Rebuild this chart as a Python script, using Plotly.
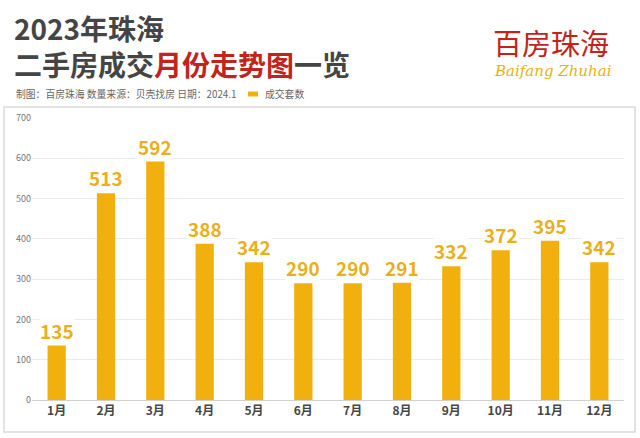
import plotly.graph_objects as go

months = ["1月", "2月", "3月", "4月", "5月", "6月", "7月", "8月", "9月", "10月", "11月", "12月"]
deals = [135, 513, 592, 388, 342, 290, 290, 291, 332, 372, 395, 342]
y_ticks = [0, 100, 200, 300, 400, 500, 600, 700]

FONT = "Noto Sans CJK SC"
BAR = "#F2B00F"
LABEL = "#EAB01C"
DARK = "#454545"
RED = "#C2241C"

W, H = 640, 438
L, R, T, B = 32, 16, 118, 38
pw, ph = W - L - R, H - T - B

def px(x):
    return (x - L) / pw

def py(y):
    return (H - B - y) / ph

fig = go.Figure()
fig.add_trace(go.Bar(x=months, y=deals, marker_color=BAR, marker_line_width=0,
                     width=0.37, name="成交套数", showlegend=False))

annotations = []
for m, v in zip(months, deals):
    annotations.append(dict(x=m, y=v, xref="x", yref="y", text="<b>%d</b>" % v,
                            showarrow=False, yanchor="bottom", yshift=1,
                            font=dict(family=FONT, size=19, color=LABEL),
                            bgcolor="rgba(255,255,255,0.9)", borderpad=0))

# Title (two lines in one text block)
annotations.append(dict(xref="paper", yref="paper", x=px(12), y=py(46), xanchor="left", yanchor="middle",
                        align="left",
                        text="<b>2023年珠海</b><br><b>二手房成交<span style='color:%s'>月份走势图</span>一览</b>" % RED,
                        showarrow=False, font=dict(family=FONT, size=28, color=DARK)))
annotations.append(dict(xref="paper", yref="paper", x=px(14), y=py(94), xanchor="left", yanchor="middle",
                        text="制图：百房珠海 数量来源：贝壳找房 日期：2024.1", showarrow=False,
                        font=dict(family=FONT, size=9.8, color="#666666")))
annotations.append(dict(xref="paper", yref="paper", x=px(263), y=py(94), xanchor="left", yanchor="middle",
                        text="成交套数", showarrow=False,
                        font=dict(family=FONT, size=9.8, color="#666666")))
# Logo
annotations.append(dict(xref="paper", yref="paper", x=px(551), y=py(42), xanchor="center", yanchor="middle",
                        text="百房珠海", showarrow=False,
                        font=dict(family=FONT, size=29, color=RED)))
annotations.append(dict(xref="paper", yref="paper", x=px(553), y=py(71), xanchor="center", yanchor="middle",
                        text="<i>Baifang Zhuhai</i>", showarrow=False,
                        font=dict(family="DejaVu Serif", size=15, color="#E6B311")))

shapes = [
    dict(type="rect", xref="paper", yref="paper", x0=px(4), x1=px(635), y0=py(432), y1=py(107),
         line=dict(color="#DADADA", width=1.5), fillcolor="rgba(0,0,0,0)", layer="below"),
    dict(type="rect", xref="paper", yref="paper", x0=px(248), x1=px(258), y0=py(96.5), y1=py(91.5),
         line=dict(width=0), fillcolor=BAR),
]

fig.update_layout(
    width=W, height=H,
    margin=dict(l=L, r=R, t=T, b=B),
    paper_bgcolor="white", plot_bgcolor="white",
    bargap=0.63,
    annotations=annotations, shapes=shapes,
    font=dict(family=FONT),
    xaxis=dict(showgrid=False, showline=True, linecolor="#D0D0D0", linewidth=1,
               tickfont=dict(family=FONT, size=12, color=DARK), ticks="",
               tickprefix="<b>", ticksuffix="</b>", fixedrange=True),
    yaxis=dict(range=[0, 700], tickvals=y_ticks, showgrid=True, gridcolor="#EBEBEB",
               gridwidth=1, zeroline=False, showline=False,
               tickfont=dict(family=FONT, size=9, color="#777777"), ticks="", fixedrange=True),
)

fig.write_html("out.html")
